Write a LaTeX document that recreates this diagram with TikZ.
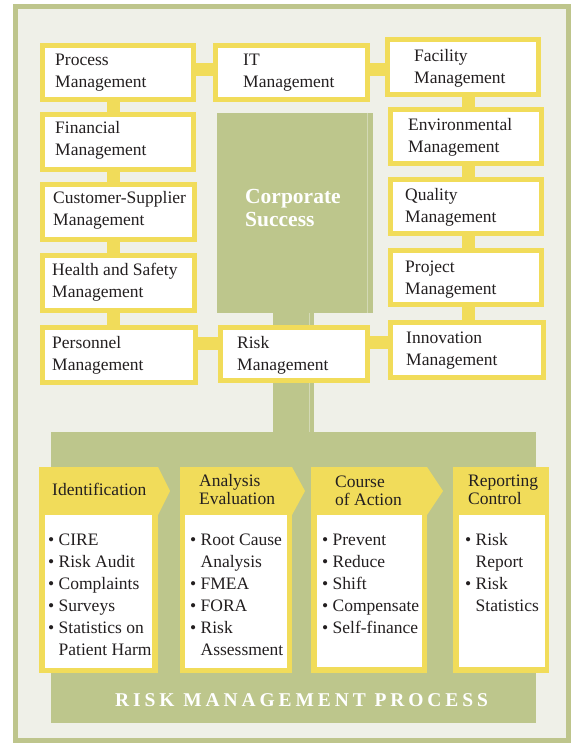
\documentclass[tikz,border=0pt]{standalone}
\usepackage{fontspec}
\setmainfont{Liberation Serif}
\usetikzlibrary{calc}

\definecolor{frameg}{HTML}{BEC58C}
\definecolor{bgc}{HTML}{EFF0E8}
\definecolor{leaf}{HTML}{BDC68C}
\definecolor{ylw}{HTML}{F1DC5A}
\definecolor{ink}{HTML}{231F20}

\tikzset{
  ybox/.style={draw=ylw, line width=5pt, fill=white, inner sep=0pt, outer sep=0pt},
  ylink/.style={draw=ylw, line width=13pt},
  btext/.style={anchor=north west, inner sep=0pt, align=left, text=ink,
                font=\fontsize{17.5}{22.5}\selectfont},
  htext/.style={anchor=north west, inner sep=0pt, align=left, text=ink,
                font=\fontsize{17.5}{18}\selectfont},
  ltext/.style={anchor=north west, inner sep=0pt, align=left, text=ink,
                font=\fontsize{17.5}{22}\selectfont},
  ctext/.style={anchor=north west, inner sep=0pt, align=left, text=white,
                font=\fontsize{21.5}{23}\selectfont\bfseries},
  block/.style={fill=leaf, inner sep=0pt, outer sep=0pt},
  colbox/.style={fill=ylw, inner sep=0pt, outer sep=0pt},
  wbox/.style={fill=white, inner sep=0pt, outer sep=0pt},
}

% box with yellow frame, given by its outer edges x1,y1,x2,y2
\newcommand\yb[5]{%
  \pgfmathsetmacro\ybW{#4-#2-5}\pgfmathsetmacro\ybH{#5-#3-5}%
  \pgfmathsetmacro\ybX{(#2+#4)/2}\pgfmathsetmacro\ybY{(#3+#5)/2}%
  \node[ybox, minimum width=\ybW pt, minimum height=\ybH pt] (#1) at (\ybX,\ybY) {};}
% plain filled rectangle node by its edges
\newcommand\rb[6]{%
  \pgfmathsetmacro\ybW{#5-#3}\pgfmathsetmacro\ybH{#6-#4}%
  \pgfmathsetmacro\ybX{(#3+#5)/2}\pgfmathsetmacro\ybY{(#4+#6)/2}%
  \node[#2, minimum width=\ybW pt, minimum height=\ybH pt] (#1) at (\ybX,\ybY) {};}
% text block: name, style, left x, first baseline, text
\newcommand\tb[5]{%
  \node[#2] (#1) at (#3,#4-14) {\rule{0pt}{14pt}#5};}

\newcommand\lbul{\makebox[10.5pt][l]{•}}
\newcommand\lcont{\hspace*{10.5pt}}

\begin{document}
\begin{tikzpicture}[x=1pt,y=-1pt]
\useasboundingbox (0,0) rectangle (573,743);

% outer frame
\draw[frameg, line width=5pt, fill=bgc] (15.5,7) rectangle (568,740);

% lower panel and central block
\rb{panel}{block}{51}{432}{536}{723}
\rb{corp}{block}{217}{113}{373}{313}
\draw[bgc!45!leaf, line width=0.8pt] ([xshift=-6pt]corp.north east) -- ([xshift=-6pt]corp.south east);

% trunk from the central block down to the panel
\draw[leaf, line width=41pt] (panel.north) -- (panel.north |- corp.south);
\draw[bgc!45!leaf, line width=0.8pt] ([xshift=16pt]panel.north) -- ([xshift=16pt]panel.north |- corp.south);

\tb{corpt}{ctext}{245}{203}{Corporate\\Success}

% management boxes
\yb{proc}{40}{43}{196}{102}
\yb{it}{213}{43}{370}{102}
\yb{fac}{385}{37}{541}{97}
\yb{env}{388}{107}{544}{166}
\yb{qual}{388}{177}{544}{236}
\yb{proj}{388}{248}{544}{307}
\yb{innov}{388}{320}{546}{380}
\yb{fin}{40}{112}{196}{172}
\yb{cust}{40}{182}{197}{242}
\yb{hs}{40}{253}{197}{313}
\yb{pers}{40}{325}{198}{385}
\yb{risk}{218}{325}{370}{383}

% links between the boxes
\draw[ylink] (proc.east |- 0,70) -- (it.west |- 0,70);
\draw[ylink] (it.east |- 0,70) -- (fac.west |- 0,70);
\draw[ylink] (fac.south -| 468,0) -- (env.north -| 468,0);
\draw[ylink] (env.south -| 468,0) -- (qual.north -| 468,0);
\draw[ylink] (qual.south -| 468,0) -- (proj.north -| 468,0);
\draw[ylink] (proj.south -| 468,0) -- (innov.north -| 468,0);
\draw[ylink] (proc.south -| 113.5,0) -- (fin.north -| 113.5,0);
\draw[ylink] (fin.south -| 113.5,0) -- (cust.north -| 113.5,0);
\draw[ylink] (cust.south -| 113.5,0) -- (hs.north -| 113.5,0);
\draw[ylink] (hs.south -| 113.5,0) -- (pers.north -| 113.5,0);
\draw[ylink] (pers.east |- 0,343.5) -- (risk.west |- 0,343.5);
\draw[ylink] (risk.east |- 0,342) -- (innov.west |- 0,342);

% box texts
\tb{proct}{btext}{55}{65}{Process\\Management}
\tb{itt}{btext}{243}{65}{IT\\Management}
\tb{fact}{btext}{414}{61}{Facility\\Management}
\tb{envt}{btext}{408}{130}{Environmental\\Management}
\tb{qualt}{btext}{405}{200}{Quality\\Management}
\tb{projt}{btext}{405}{272}{Project\\Management}
\tb{innovt}{btext}{406}{343}{Innovation\\Management}
\tb{fint}{btext}{55}{133}{Financial\\Management}
\tb{custt}{btext}{53}{203}{Customer-Supplier\\Management}
\tb{hst}{btext}{52}{275}{Health and Safety\\Management}
\tb{perst}{btext}{52}{348}{Personnel\\Management}
\tb{riskt}{btext}{237}{348}{Risk\\Management}

% process columns
\rb{c1}{colbox}{39}{467}{158}{673}
\rb{c2}{colbox}{180}{467}{292}{673}
\rb{c3}{colbox}{311}{467}{427}{673}
\rb{c4}{colbox}{453}{467}{549}{673}
\foreach \c/\d in {c1/12,c2/13,c3/16}{
  \fill[ylw] (\c.north east) -- ($(\c.north east)+(\d,24)$) -- ($(\c.north east)+(0,48)$) -- cycle;
}
\rb{w1}{wbox}{45}{515}{152}{668}
\rb{w2}{wbox}{185}{515}{287}{668}
\rb{w3}{wbox}{317}{515}{422}{667}
\rb{w4}{wbox}{459}{515}{545}{667}

\tb{h1}{htext}{52}{495}{Identification}
\tb{h2}{htext}{199}{486}{Analysis\\Evaluation}
\tb{h3}{htext}{335}{487}{Course\\of Action}
\tb{h4}{htext}{468}{486}{Reporting\\Control}

\tb{l1}{ltext}{48}{545}{\lbul CIRE\\\lbul Risk Audit\\\lbul Complaints\\\lbul Surveys\\\lbul Statistics on\\\lcont Patient Harm}
\tb{l2}{ltext}{190}{545}{\lbul Root Cause\\\lcont Analysis\\\lbul FMEA\\\lbul FORA\\\lbul Risk\\\lcont Assessment}
\tb{l3}{ltext}{322}{545}{\lbul Prevent\\\lbul Reduce\\\lbul Shift\\\lbul Compensate\\\lbul Self-finance}
\tb{l4}{ltext}{465}{545}{\lbul Risk\\\lcont Report\\\lbul Risk\\\lcont Statistics}

\node[anchor=base west, inner sep=0pt, text=white,
      font=\fontsize{19.5}{22}\selectfont\bfseries\addfontfeature{LetterSpace=20}] (rmp) at (115,706)
      {RISK MANAGEMENT PROCESS};
\end{tikzpicture}
\end{document}
